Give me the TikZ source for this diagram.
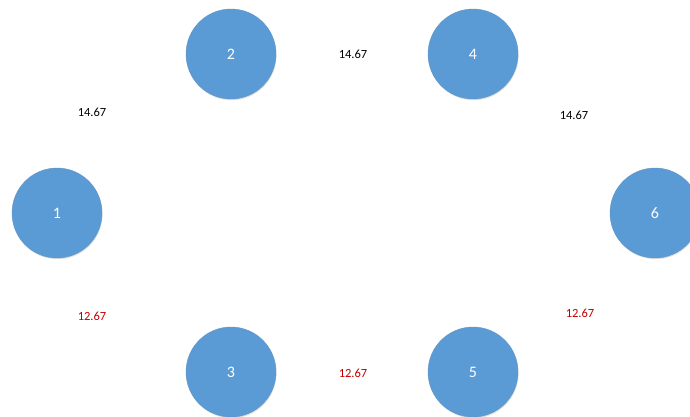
\documentclass[tikz,border=0pt]{standalone}
\usepackage{fontspec}
\setmainfont{Carlito}
\usetikzlibrary{shadows}
\definecolor{nodeblue}{HTML}{5B9BD5}
\definecolor{labred}{HTML}{C00000}
\tikzset{
  vertex/.style={circle, fill=nodeblue, draw=nodeblue!80!gray, line width=0.4pt, minimum size=90pt, inner sep=0pt, text=white, font=\fontsize{16}{18}\selectfont,
    drop shadow={shadow xshift=0.6pt, shadow yshift=-1.2pt, opacity=0.25, fill=gray}},
  wlab/.style={font=\fontsize{12.5}{14}\selectfont, text=black},
  rlab/.style={font=\fontsize{12.5}{14}\selectfont, text=labred}
}
\begin{document}
\begin{tikzpicture}[x=1pt,y=-1pt]
\useasboundingbox (0,0) rectangle (690,417);
\begin{scope}
\clip (0,0) rectangle (690,417);
\node[vertex] (n1) at (57,213) {1};
\node[vertex] (n2) at (231,54) {2};
\node[vertex] (n3) at (231,372) {3};
\node[vertex] (n4) at (473,54) {4};
\node[vertex] (n5) at (473,372) {5};
\node[vertex] (n6) at (655,213) {6};
\end{scope}
\node[wlab] (w12) at (92,112) {14.67};
\node[wlab] (w24) at (353,54) {14.67};
\node[wlab] (w46) at (574,115) {14.67};
\node[rlab] (w13) at (92,316) {12.67};
\node[rlab] (w35) at (353,373) {12.67};
\node[rlab] (w56) at (580,313) {12.67};
\end{tikzpicture}
\end{document}
